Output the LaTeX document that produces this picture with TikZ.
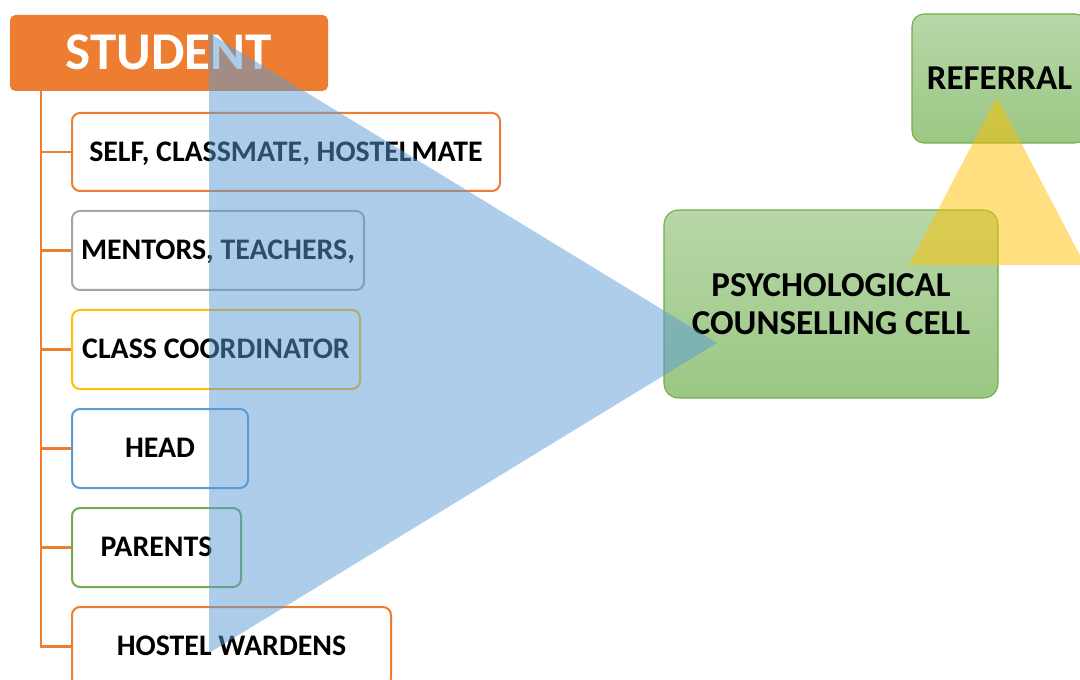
\documentclass[tikz,border=0pt]{standalone}
\usepackage{fontspec}
\setmainfont{Carlito}
\definecolor{orangeC}{HTML}{ED7D31}
\definecolor{grayC}{HTML}{A5A5A5}
\definecolor{yellowC}{HTML}{FFC000}
\definecolor{blueC}{HTML}{5B9BD5}
\definecolor{greenC}{HTML}{70AD47}
\definecolor{gtop}{RGB}{183,215,168}
\definecolor{gbot}{RGB}{155,199,131}
\begin{document}
\begin{tikzpicture}[x=0.75pt,y=-0.75pt,
  lab/.style={draw, line width=1.5pt, rounded corners=6pt, fill=white,
    font=\fontsize{22.4}{26}\selectfont\bfseries, text height=14.2pt, text depth=0pt, inner sep=0pt},
  head/.style={fill=orangeC, rounded corners=4pt, text=white, inner sep=0pt,
    font=\fontsize{39.8}{44}\selectfont\bfseries, text height=25pt, text depth=0pt},
  gbox/.style={draw=greenC, line width=0.8pt, top color=gtop, bottom color=gbot,
    inner sep=0pt, align=center, font=\fontsize{26.2}{28.5}\selectfont\bfseries},
  spine/.style={draw=orangeC, line width=1.7pt},
  overlay/.style={opacity=0.5}]
\useasboundingbox (0,0) rectangle (1080,680);
\clip (0,0) rectangle (1080,680);
% student
\node[head, minimum width={318*0.75pt}, minimum height={76*0.75pt}] (stu) at (169,53) {STUDENT};
% branches
\node[lab, draw=orangeC, minimum width={428*0.75pt}, minimum height={78*0.75pt}] (b1) at (286,152) {SELF, CLASSMATE, HOSTELMATE};
\node[lab, draw=grayC, minimum width={292*0.75pt}, minimum height={79*0.75pt}] (b2) at (218,250.5) {MENTORS, TEACHERS,};
\node[lab, draw=yellowC, minimum width={288*0.75pt}, minimum height={79*0.75pt}] (b3) at (216,349.5) {CLASS COORDINATOR};
\node[lab, draw=blueC, minimum width={176*0.75pt}, minimum height={79*0.75pt}] (b4) at (160,448.5) {HEAD};
\node[lab, draw=greenC, minimum width={169*0.75pt}, minimum height={79*0.75pt}] (b5) at (156.5,547.5) {PARENTS};
\node[lab, draw=orangeC, minimum width={319*0.75pt}, minimum height={79*0.75pt}] (b6) at (231.5,646.5) {HOSTEL WARDENS};
\coordinate (sp) at (41,91);
\draw[spine] (sp) |- (b6.west);
\foreach \b in {b1,b2,b3,b4,b5}{\draw[spine] (sp |- \b.west) -- (\b.west);}
% green boxes
\node[gbox, rounded corners=11pt, minimum width={334*0.75pt}, minimum height={188*0.75pt}] (pcc) at (831,304) {PSYCHOLOGICAL\\COUNSELLING CELL};
\node[gbox, rounded corners=9pt, minimum width={175*0.75pt}, minimum height={129*0.75pt}] (ref) at (999.5,78.5) {REFERRAL};
% overlays
\fill[blueC, overlay] (209,33) -- (717,343) -- (209,653) -- cycle;
\fill[yellowC, overlay] (997,97) -- (1085,265) -- (909,265) -- cycle;
\end{tikzpicture}
\end{document}
